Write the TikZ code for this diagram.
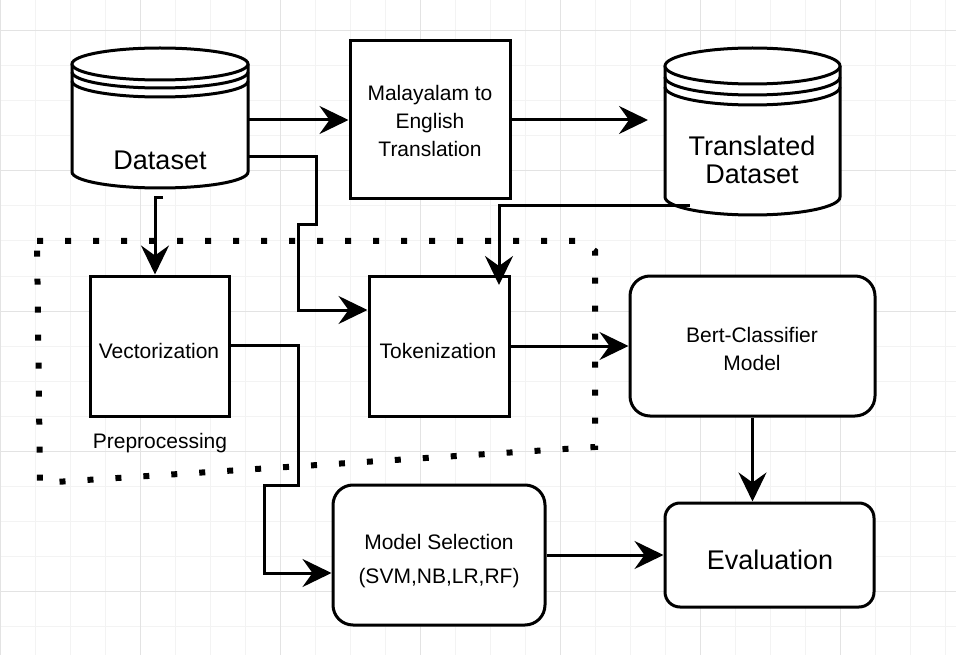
\documentclass[tikz,border=0pt]{standalone}
\usepackage{fontspec}
\setmainfont{Liberation Sans}
\usetikzlibrary{arrows.meta}
\definecolor{gridminor}{HTML}{F3F3F3}
\definecolor{gridmajor}{HTML}{E3E3E3}
\tikzset{
  shp/.style={line width=3pt, draw=black, fill=white},
  box/.style={shp, rectangle, inner sep=0pt},
  rbox/.style={box, rounded corners=20pt},
  phantom/.style={inner sep=0pt, outer sep=0pt, draw=none},
  bigtxt/.style={inner sep=0pt, align=center, font=\fontsize{27}{28}\selectfont},
  smalltxt/.style={inner sep=0pt, align=center, font=\fontsize{21}{28}\selectfont},
  arr/.style={line width=3pt, draw=black, line join=miter,
    -{Stealth[length=29pt,width=28pt,inset=10pt]}},
  dots/.style={line width=6pt, draw=black, dash pattern=on 6pt off 22pt, line cap=butt}
}
\begin{document}
\begin{tikzpicture}[x=1pt,y=-1pt]
\useasboundingbox (0,0) rectangle (956,655);
\fill[white] (0,0) rectangle (956,655);
% grid
\foreach \gx in {0,35,...,955} \draw[gridminor, line width=1pt] (\gx,0) -- (\gx,655);
\foreach \gy in {-4,31,...,654} \draw[gridminor, line width=1pt] (0,\gy) -- (956,\gy);
\foreach \gx in {0,140,...,955} \draw[gridmajor, line width=1pt] (\gx,0) -- (\gx,655);
\foreach \gy in {31,171,...,654} \draw[gridmajor, line width=1pt] (0,\gy) -- (956,\gy);

% Dataset cylinder
\filldraw[shp] (72,64) -- (72,172) arc[start angle=180,end angle=0,x radius=88,y radius=16] -- (248,64);
\filldraw[shp] (160,64) ellipse[x radius=88,y radius=16];
\draw[shp, fill=none] (72,72) arc[start angle=180,end angle=0,x radius=88,y radius=16];
\draw[shp, fill=none] (72,81) arc[start angle=180,end angle=0,x radius=88,y radius=16];
\node[phantom, minimum width=176pt, minimum height=140pt] (dataset) at (160,118) {};
\node[bigtxt] (datasettxt) at (160,160) {Dataset};

% Translated dataset cylinder
\filldraw[shp] (665,66) -- (665,197) arc[start angle=180,end angle=0,x radius=87.5,y radius=18] -- (840,66);
\filldraw[shp] (752.5,66) ellipse[x radius=87.5,y radius=18];
\draw[shp, fill=none] (665,77) arc[start angle=180,end angle=0,x radius=87.5,y radius=18];
\draw[shp, fill=none] (665,87) arc[start angle=180,end angle=0,x radius=87.5,y radius=18];
\node[phantom, minimum width=175pt, minimum height=167pt] (trans) at (752.5,131.5) {};
\node[bigtxt] (transtxt) at (752,160) {Translated\\Dataset};

% boxes
\node[box, minimum width=160pt, minimum height=158pt] (malay) at (430,120) {};
\node[smalltxt] (malaytxt) at (430,121) {Malayalam to\\English\\Translation};
\node[box, minimum width=139pt, minimum height=140pt] (vector) at (159.5,346) {};
\node[smalltxt] (vectortxt) at (159,351) {Vectorization};
\node[box, minimum width=140pt, minimum height=140pt] (token) at (439,346) {};
\node[smalltxt] (tokentxt) at (438,351) {Tokenization};
\node[rbox, minimum width=245pt, minimum height=140pt] (bert) at (752.5,346) {};
\node[smalltxt] (berttxt) at (752,349) {Bert-Classifier\\Model};
\node[rbox, minimum width=212pt, minimum height=140pt] (model) at (439,555) {};
\node[smalltxt, font=\fontsize{21}{34}\selectfont] (modeltxt) at (439,561) {Model Selection\\(SVM,NB,LR,RF)};
\node[rbox, rounded corners=15pt, minimum width=209pt, minimum height=104pt] (eval) at (769.5,555) {};
\node[bigtxt] (evaltxt) at (770,560) {Evaluation};

% preprocessing frame
\draw[dots] (37,241) -- (582,241) -- (595,251) -- (595,447) -- (40,483) -- cycle;
\node[smalltxt] (prep) at (160,443) {Preprocessing};

% connectors
\coordinate (tin) at (648,120);
\draw[arr] (malay.east |- tin) -- (tin);
\draw[arr] (dataset.east |- malay.west) -- (malay.west);

\coordinate (dsR) at (248,157);
\draw[arr] (dsR) -- (316,157) -- (316,225) -- (298,225) -- (298,310) -- (token.west |- 0,310);

\coordinate (hookA) at (163,198);
\coordinate (hookB) at (155,198);
\draw[arr] (hookA) -- (hookB) -- (vector.north -| hookB);

\coordinate (trL) at (690,206);
\coordinate (trT) at (499,206);
\coordinate (trTip) at (499,285);
\draw[arr] (trL) -- (trT) -- (trTip);

\draw[arr] (token.east) -- (bert.west);

\coordinate (vR) at (229,345);
\draw[arr] (vR) -- (298,345) -- (298,485) -- (264,485) -- (264,573) -- (model.west |- 0,573);

\draw[arr] (model.east) -- (eval.west);
\draw[arr] (bert.south) -- (bert.south |- eval.north);
\end{tikzpicture}
\end{document}
